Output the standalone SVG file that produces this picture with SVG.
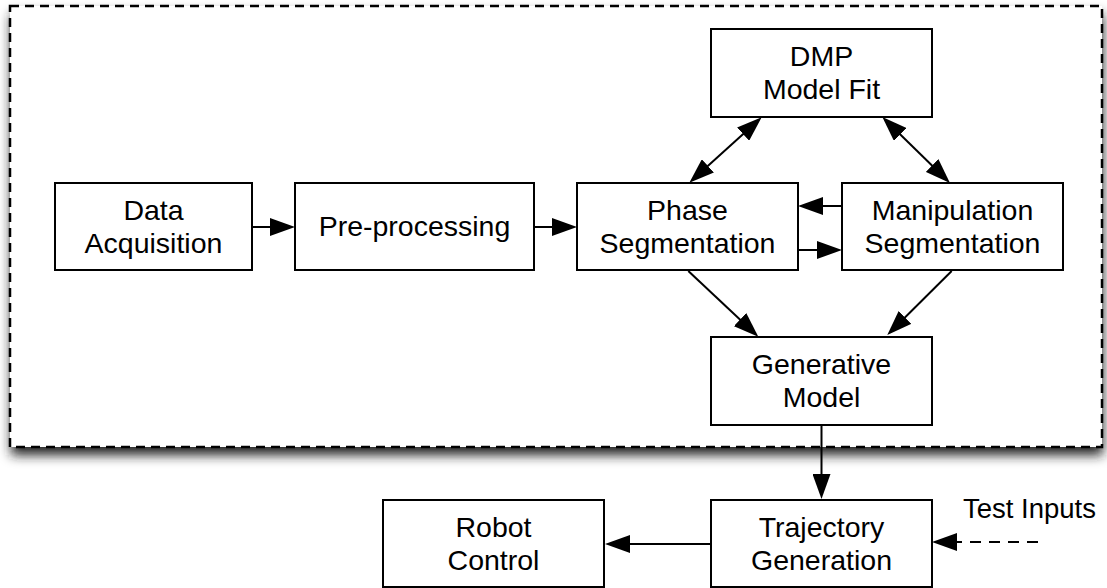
<svg xmlns="http://www.w3.org/2000/svg" width="1107" height="588" viewBox="0 0 1107 588">
  <style>
    .box { fill: #ffffff; stroke: #000000; stroke-width: 2; }
    .lbl { font-family: "Liberation Sans", Arial, Helvetica, sans-serif; font-size: 28.5px; fill: #000000; text-anchor: middle; }
    .edge { fill: none; stroke: #000000; stroke-width: 2; }
    .arrow { marker-end: url(#head); }
    .both { marker-start: url(#head); marker-end: url(#head); }
    .dashed { stroke-dasharray: 11 8; }
  </style>
  <defs>
    <marker id="head" markerUnits="userSpaceOnUse" markerWidth="25" markerHeight="18" viewBox="0 0 25 18" refX="21" refY="9" orient="auto-start-reverse">
      <path d="M0,0 L25,9 L0,18 Z" fill="#000000"/>
    </marker>
    <filter id="shadow" x="-5%" y="-5%" width="110%" height="120%">
      <feGaussianBlur stdDeviation="6"/>
    </filter>
  </defs>

  <rect width="1107" height="588" fill="#ffffff"/>

  <!-- dashed system boundary with its drop shadow -->
  <g id="boundary">
    <rect x="11" y="14" width="1092" height="441" fill="#202020" filter="url(#shadow)"/>
    <rect x="10" y="6" width="1092" height="441" fill="#ffffff" stroke="#000000" stroke-width="2.5" stroke-dasharray="9 6"/>
  </g>

  <!-- connectors -->
  <g id="connectors">
    <line class="edge arrow" x1="252" y1="227" x2="291" y2="227"/>
    <line class="edge arrow" x1="534" y1="227" x2="573" y2="227"/>
    <line class="edge arrow" x1="842" y1="206" x2="802" y2="206"/>
    <line class="edge arrow" x1="798" y1="250" x2="838" y2="250"/>
    <line class="edge both" x1="692.3" y1="180" x2="758.7" y2="120"/>
    <line class="edge both" x1="885.2" y1="119.8" x2="947.1" y2="180.2"/>
    <line class="edge arrow" x1="688.3" y1="271" x2="755.4" y2="334"/>
    <line class="edge arrow" x1="951.7" y1="271" x2="890.1" y2="332.2"/>
    <line class="edge arrow" x1="821.5" y1="425" x2="821.5" y2="495"/>
    <line class="edge arrow" x1="711" y1="544" x2="609" y2="544"/>
    <line class="edge arrow dashed" x1="1038" y1="542" x2="936" y2="542"/>
  </g>

  <g id="data-acquisition">
    <rect class="box" x="55" y="183" width="197" height="87"/>
    <text class="lbl" x="153.5" y="220">Data</text>
    <text class="lbl" x="153.5" y="253">Acquisition</text>
  </g>

  <g id="pre-processing">
    <rect class="box" x="295" y="183" width="239" height="87"/>
    <text class="lbl" x="414.5" y="236">Pre-processing</text>
  </g>

  <g id="phase-segmentation">
    <rect class="box" x="577" y="183" width="221" height="87"/>
    <text class="lbl" x="687.5" y="220">Phase</text>
    <text class="lbl" x="687.5" y="253">Segmentation</text>
  </g>

  <g id="manipulation-segmentation">
    <rect class="box" x="842" y="183" width="221" height="87"/>
    <text class="lbl" x="952.5" y="220">Manipulation</text>
    <text class="lbl" x="952.5" y="253">Segmentation</text>
  </g>

  <g id="dmp-model-fit">
    <rect class="box" x="711" y="29" width="221" height="88"/>
    <text class="lbl" x="821.5" y="66">DMP</text>
    <text class="lbl" x="821.5" y="99">Model Fit</text>
  </g>

  <g id="generative-model">
    <rect class="box" x="711" y="337" width="221" height="88"/>
    <text class="lbl" x="821.5" y="374">Generative</text>
    <text class="lbl" x="821.5" y="407">Model</text>
  </g>

  <g id="trajectory-generation">
    <rect class="box" x="711" y="500" width="221" height="87"/>
    <text class="lbl" x="821.5" y="537">Trajectory</text>
    <text class="lbl" x="821.5" y="570">Generation</text>
  </g>

  <g id="robot-control">
    <rect class="box" x="383" y="500" width="221" height="87"/>
    <text class="lbl" x="493.5" y="537">Robot</text>
    <text class="lbl" x="493.5" y="570">Control</text>
  </g>

  <g id="test-inputs">
    <text class="lbl" x="963" y="518" style="text-anchor: start; font-size: 27.5px">Test Inputs</text>
  </g>
</svg>
